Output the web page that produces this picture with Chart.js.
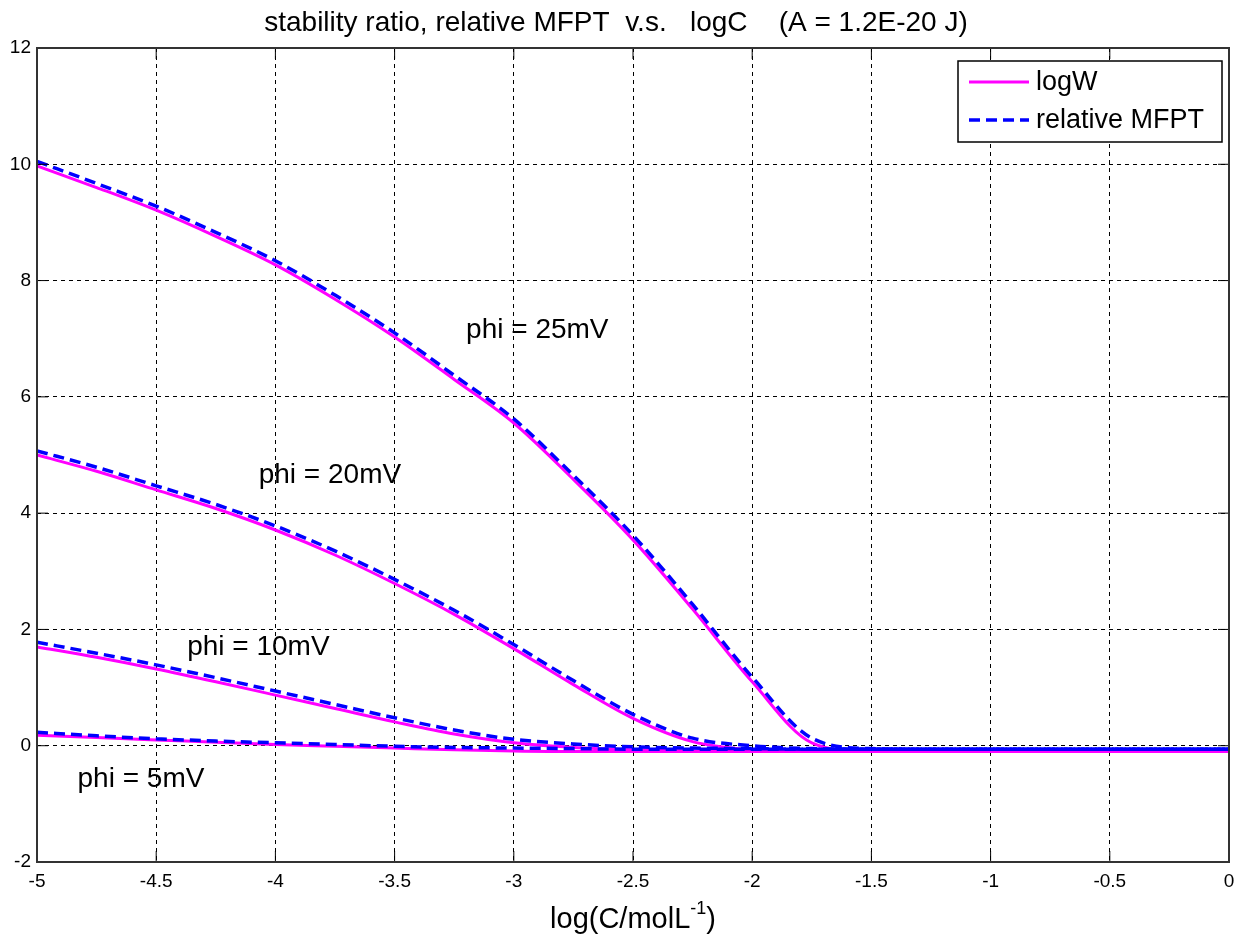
<!DOCTYPE html>
<html>
<head>
<meta charset="utf-8">
<script src="https://cdn.jsdelivr.net/npm/chart.js@4"></script>
<style>
  html, body { margin: 0; padding: 0; background: #fff; }
  #wrap { width: 1247px; height: 940px; }
</style>
</head>
<body>
<div id="wrap"><canvas id="myChart" width="1247" height="940"></canvas></div>
<script>
// log(C) values shared by every curve
const logC = [-5, -4.75, -4.5, -4.25, -4, -3.75, -3.5, -3.25, -3, -2.75, -2.5,
              -2.25, -2, -1.75, -1.5, -1.25, -1, -0.75, -0.5, -0.25, 0];

// logW (magenta, solid)
const logW25 = [9.97, 9.6, 9.21, 8.76, 8.27, 7.68, 7.03, 6.3, 5.55, 4.58, 3.54,
                2.35, 1.1, 0.05, -0.1, -0.1, -0.1, -0.1, -0.1, -0.1, -0.1];
const logW20 = [5.0, 4.72, 4.4, 4.08, 3.71, 3.28, 2.79, 2.26, 1.67, 1.05, 0.47,
                0.07, -0.07, -0.1, -0.1, -0.1, -0.1, -0.1, -0.1, -0.1, -0.1];
const logW10 = [1.7, 1.52, 1.32, 1.1, 0.87, 0.64, 0.41, 0.2, 0.05, -0.03, -0.07,
                -0.09, -0.1, -0.1, -0.1, -0.1, -0.1, -0.1, -0.1, -0.1, -0.1];
const logW5 = [0.18, 0.14, 0.1, 0.06, 0.02, -0.01, -0.04, -0.07, -0.09, -0.1, -0.1,
               -0.1, -0.1, -0.1, -0.1, -0.1, -0.1, -0.1, -0.1, -0.1, -0.1];

// relative MFPT (blue, dashed)
const mfpt25 = [10.05, 9.67, 9.28, 8.83, 8.34, 7.75, 7.1, 6.37, 5.62, 4.65, 3.62,
                2.43, 1.18, 0.13, -0.05, -0.06, -0.06, -0.06, -0.06, -0.06, -0.06];
const mfpt20 = [5.07, 4.79, 4.47, 4.15, 3.78, 3.35, 2.86, 2.33, 1.74, 1.12, 0.54,
                0.13, 0.0, -0.05, -0.06, -0.06, -0.06, -0.06, -0.06, -0.06, -0.06];
const mfpt10 = [1.78, 1.59, 1.39, 1.17, 0.94, 0.71, 0.48, 0.27, 0.11, 0.03, -0.02,
                -0.04, -0.05, -0.06, -0.06, -0.06, -0.06, -0.06, -0.06, -0.06, -0.06];
const mfpt5 = [0.23, 0.17, 0.12, 0.08, 0.05, 0.02, -0.01, -0.03, -0.04, -0.05, -0.06,
               -0.06, -0.06, -0.06, -0.06, -0.06, -0.06, -0.06, -0.06, -0.06, -0.06];

// curve labels: text, logC, value (left / baseline anchor)
const phiText = ["phi = 25mV", "phi = 20mV", "phi = 10mV", "phi = 5mV"];
const phiX = [-3.2, -4.07, -4.37, -4.83];
const phiY = [7.01, 4.52, 1.56, -0.71];

const legendNames = ["logW", "relative MFPT"];

const MAGENTA = "#ff00ff";
const BLUE = "#0000ff";
const FONT = "'Liberation Sans', Arial, sans-serif";

const toPoints = (vals) => vals.map((v, i) => ({ x: logC[i], y: v }));

const solid = (vals) => ({
    label: legendNames[0],
    data: toPoints(vals),
    borderColor: MAGENTA,
    borderWidth: 3,
    pointRadius: 0,
    cubicInterpolationMode: "monotone",
    order: 2,
});
const dashed = (vals) => ({
    label: legendNames[1],
    data: toPoints(vals),
    borderColor: BLUE,
    borderWidth: 3.5,
    borderDash: [11, 6],
    pointRadius: 0,
    cubicInterpolationMode: "monotone",
    order: 1,
});

// draws box, inner ticks, labels, legend, titles
const overlay = {
    id: "overlay",
    afterDraw(chart) {
        const { ctx, chartArea: a, scales: { x, y } } = chart;
        ctx.save();

        // inner tick marks
        ctx.strokeStyle = "#000";
        ctx.lineWidth = 1;
        ctx.setLineDash([]);
        x.ticks.forEach((t) => {
            const px = x.getPixelForValue(t.value);
            ctx.beginPath();
            ctx.moveTo(px, a.bottom); ctx.lineTo(px, a.bottom - 11);
            ctx.moveTo(px, a.top); ctx.lineTo(px, a.top + 11);
            ctx.stroke();
        });
        y.ticks.forEach((t) => {
            const py = y.getPixelForValue(t.value);
            ctx.beginPath();
            ctx.moveTo(a.left, py); ctx.lineTo(a.left + 11, py);
            ctx.moveTo(a.right, py); ctx.lineTo(a.right - 11, py);
            ctx.stroke();
        });

        // axes box
        ctx.strokeStyle = "#333";
        ctx.lineWidth = 2;
        ctx.strokeRect(a.left, a.top, a.right - a.left, a.bottom - a.top);

        // curve labels
        ctx.fillStyle = "#000";
        ctx.font = "28px " + FONT;
        ctx.textAlign = "left";
        ctx.textBaseline = "alphabetic";
        phiText.forEach((txt, i) => {
            ctx.fillText(txt, x.getPixelForValue(phiX[i]), y.getPixelForValue(phiY[i]));
        });

        // legend
        const lx = 958, ly = 61, lw = 264, lh = 81;
        ctx.fillStyle = "#fff";
        ctx.fillRect(lx, ly, lw, lh);
        ctx.strokeStyle = "#000";
        ctx.lineWidth = 1.5;
        ctx.strokeRect(lx, ly, lw, lh);
        const ds = chart.data.datasets;
        [ds[0], ds[4]].forEach((d, i) => {
            const yy = ly + 21 + i * 38;
            ctx.strokeStyle = d.borderColor;
            ctx.lineWidth = d.borderWidth;
            ctx.setLineDash(d.borderDash || []);
            ctx.beginPath();
            ctx.moveTo(lx + 11, yy); ctx.lineTo(lx + 71, yy);
            ctx.stroke();
            ctx.setLineDash([]);
            ctx.fillStyle = "#000";
            ctx.font = "27px " + FONT;
            ctx.textBaseline = "middle";
            ctx.fillText(d.label, lx + 78, yy + 1);
        });

        // title
        ctx.textAlign = "center";
        ctx.textBaseline = "middle";
        ctx.font = "28px " + FONT;
        ctx.fillText("stability ratio, relative MFPT  v.s.   logC    (A = 1.2E-20 J)", 616, 23);

        // x axis title with superscript
        ctx.textAlign = "left";
        ctx.textBaseline = "alphabetic";
        const main = "log(C/molL";
        const sup = "-1";
        const tail = ")";
        ctx.font = "18px " + FONT;
        const wSup = ctx.measureText(sup).width;
        ctx.font = "29px " + FONT;
        const wMain = ctx.measureText(main).width;
        const wTail = ctx.measureText(tail).width;
        const cx = (a.left + a.right) / 2;
        const sx = cx - (wMain + wSup + wTail) / 2;
        const base = 928;
        ctx.fillText(main, sx, base);
        ctx.fillText(tail, sx + wMain + wSup, base);
        ctx.font = "18px " + FONT;
        ctx.fillText(sup, sx + wMain, base - 14);

        ctx.restore();
    },
};

const fmt = (v) => String(Math.round(v * 10) / 10);

const ctx = document.getElementById("myChart").getContext("2d");
const myChart = new Chart(ctx, {
    type: "line",
    data: {
        datasets: [
            solid(logW25), solid(logW20), solid(logW10), solid(logW5),
            dashed(mfpt25), dashed(mfpt20), dashed(mfpt10), dashed(mfpt5),
        ],
    },
    options: {
        responsive: false,
        animation: false,
        layout: { padding: { top: 48, right: 18, left: 0, bottom: 0 } },
        plugins: {
            legend: { display: false },
            title: { display: false },
            tooltip: { enabled: false },
        },
        scales: {
            x: {
                type: "linear",
                min: -5,
                max: 0,
                ticks: {
                    stepSize: 0.5,
                    color: "#000",
                    padding: 8,
                    maxRotation: 0,
                    callback: fmt,
                    font: { family: FONT, size: 19 },
                },
                grid: { color: "#000", lineWidth: 1, drawTicks: false },
                border: { display: false, dash: [4, 4] },
                afterFit: (s) => { s.height = 78; },
            },
            y: {
                min: -2,
                max: 12,
                ticks: {
                    stepSize: 2,
                    color: "#000",
                    padding: 6,
                    callback: fmt,
                    font: { family: FONT, size: 19 },
                },
                grid: { color: "#000", lineWidth: 1, drawTicks: false },
                border: { display: false, dash: [4, 4] },
                afterFit: (s) => { s.width = 37; },
            },
        },
    },
    plugins: [overlay],
});
</script>
</body>
</html>
